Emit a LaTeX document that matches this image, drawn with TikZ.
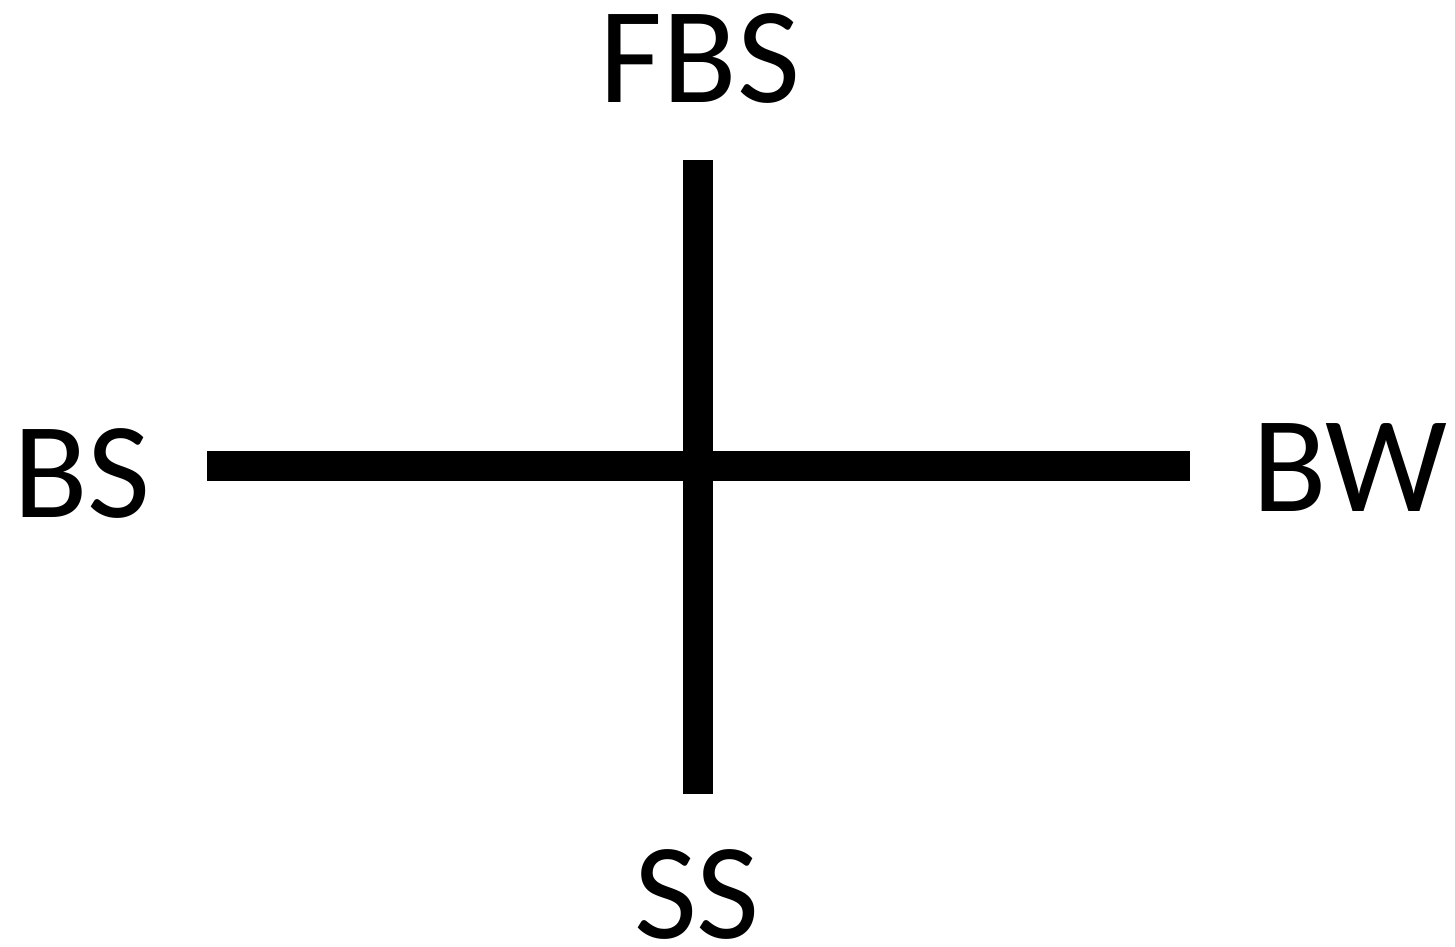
\documentclass[tikz,border=0pt]{standalone}
\usepackage{fontspec}
\setmainfont{Carlito}
\usepackage{tikz}
\usetikzlibrary{positioning,calc}

\begin{document}
\begin{tikzpicture}[
  lbl/.style={inner sep=0pt, font=\fontsize{39}{47}\selectfont},
  axis/.style={line width=8.5pt, black}]
\useasboundingbox (0,0) rectangle (14.55,9.47);
\node[lbl] (fbs) at (7.00,8.88) {FBS};
\node[lbl] (ss) at (6.97,0.53) {SS};
\node[lbl] (bs) at (0.82,4.73) {BS};
\node[lbl] (bw) at (13.50,4.79) {BW};
\coordinate (top) at (6.98,7.87);
\coordinate (bot) at (6.98,1.53);
\coordinate (left) at (2.07,4.81);
\coordinate (right) at (11.90,4.81);
\draw[axis] (top) -- (bot);
\draw[axis] (left) -- (right);
\end{tikzpicture}
\end{document}
